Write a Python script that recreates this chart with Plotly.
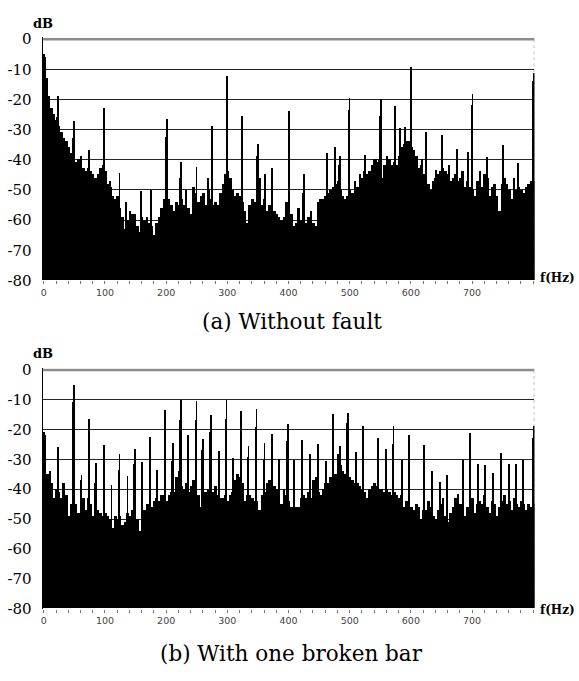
import plotly.graph_objects as go

W, H = 579, 681

# ---------------- data ----------------
FREQ_STEP_HZ = 4  # floor spectrum sampled every 4 Hz from 0 to 800 Hz

# (a) Without fault: spectral floor (dB) at 0,4,8,...,800 Hz
TOP_FLOOR_DB = [
    -6, -13, -19, -23, -25, -27, -29, -31, -33, -34,
    -36, -38, -39, -41, -40, -40, -43, -44, -43, -44,
    -45, -46, -45, -43, -42, -44, -48, -49, -52, -53,
    -52, -56, -59, -63, -60, -57, -58, -58, -62, -64,
    -59, -60, -59, -61, -62, -65, -61, -59, -56, -53,
    -52, -53, -55, -57, -54, -55, -53, -55, -50, -56,
    -58, -49, -51, -54, -52, -51, -55, -50, -53, -55,
    -54, -55, -51, -48, -45, -44, -46, -50, -52, -51,
    -52, -54, -57, -61, -55, -53, -54, -50, -46, -55,
    -53, -57, -55, -54, -57, -58, -59, -60, -59, -54,
    -52, -58, -62, -61, -56, -60, -58, -61, -59, -57,
    -61, -62, -54, -53, -53, -52, -51, -50, -49, -48,
    -47, -50, -52, -53, -52, -50, -51, -47, -49, -45,
    -46, -44, -45, -44, -42, -40, -41, -40, -46, -42,
    -39, -40, -42, -41, -42, -39, -36, -35, -34, -34,
    -36, -37, -39, -43, -42, -45, -44, -48, -50, -47,
    -46, -45, -44, -43, -44, -45, -47, -46, -45, -47,
    -46, -44, -49, -47, -49, -50, -52, -47, -44, -49,
    -45, -46, -52, -49, -48, -52, -57, -48, -46, -48,
    -50, -53, -47, -50, -49, -50, -51, -49, -48, -47,
    -47,
]

# (a) spectral lines: frequency (Hz), tip level (dB), shoulder level (dB or None)
TOP_PEAK_HZ = [0, 22, 48, 60, 73, 98, 107, 123, 134, 158, 174, 200, 223, 249, 268,
               274, 299, 323, 349, 361, 372, 400, 424, 462, 475, 483, 499, 524,
               543, 550, 574, 582, 590, 600, 617, 624, 640, 650, 661, 674, 692,
               700, 724, 750, 768, 775, 800]
TOP_PEAK_DB = [-5, -19, -27.4, -39, -37, -23, -47, -44.6, -54, -50.5, -50, -26.7,
               -40.8, -42.4, -46, -28.9, -12.3, -25.6, -34.8, -45, -43, -24, -44.7,
               -38, -35.8, -39, -19.6, -38.5, -40, -20.1, -22.3, -29.6, -29.3, -9.3,
               -40, -31, -43.5, -31.8, -42, -36.7, -37.4, -18.3, -39.3, -35.1, -46,
               -41.2, -11.5]
TOP_PEAK_SHOULDER = [None, -26, -33, None, None, -28, None, None, None, None, None,
                     -32.6, -46, None, None, -34.8, -18.5, -31.6, -39, None, -49,
                     -30, -51, -44, -44, -42, -23.7, None, None, -25.5, -28.5, None,
                     None, -14.2, None, -39, None, -37, None, None, None, -21.8,
                     None, -39, None, None, -14]

# (b) With one broken bar: spectral floor (dB) at 0,4,8,...,800 Hz
BOT_FLOOR_DB = [
    -22, -35, -35, -38, -43, -40, -41, -43, -38, -42,
    -49, -45, -44, -45, -48, -37, -43, -47, -43, -45,
    -49, -46, -47, -48, -49, -48, -49, -50, -53, -49,
    -50, -49, -52, -51, -48, -49, -47, -48, -50, -54,
    -49, -47, -45, -45, -46, -44, -43, -44, -42, -42,
    -44, -42, -41, -41, -36, -34, -39, -40, -38, -41,
    -39, -37, -38, -42, -46, -42, -41, -40, -41, -41,
    -39, -42, -43, -43, -42, -44, -42, -41, -37, -35,
    -36, -38, -44, -42, -42, -43, -44, -44, -47, -42,
    -41, -38, -37, -36, -39, -40, -38, -45, -40, -42,
    -44, -46, -44, -46, -46, -43, -42, -43, -41, -43,
    -37, -36, -41, -42, -40, -38, -38, -36, -35, -35,
    -33, -32, -34, -35, -35, -36, -37, -38, -38, -39,
    -40, -41, -43, -40, -39, -38, -39, -40, -40, -41,
    -40, -41, -42, -41, -42, -43, -42, -46, -44, -43,
    -46, -47, -45, -46, -50, -47, -47, -44, -46, -49,
    -50, -47, -45, -43, -49, -51, -48, -46, -43, -44,
    -45, -45, -49, -46, -44, -43, -48, -45, -44, -45,
    -42, -46, -48, -44, -45, -49, -46, -44, -42, -45,
    -44, -47, -43, -45, -46, -44, -45, -47, -45, -46,
    -45,
]

BOT_PEAK_HZ = [0, 10, 23, 33, 48, 61, 73, 84, 98, 110, 123, 136, 148, 160, 173, 185,
               198, 210, 223, 235, 249, 259, 272, 286, 298, 309, 322, 334, 347, 360,
               372, 384, 398, 408, 421, 434, 448, 460, 472, 480, 484, 496, 509, 521,
               546, 558, 571, 585, 596, 621, 634, 647, 659, 676, 684, 696, 709, 721,
               733, 746, 759, 771, 783, 800]
BOT_PEAK_DB = [-21, -34, -26, -38.6, -5, -35.3, -16.4, -31.3, -25.3, -38.6, -28.4,
               -35.6, -26.6, -31, -22.5, -33.7, -13.5, -24.4, -10, -21.9, -10.6,
               -23.3, -15.1, -27.3, -10, -29.6, -13.7, -25.7, -13.3, -24.5, -21.4,
               -29.8, -18.2, -30.4, -23.6, -28.2, -24.9, -30.7, -14.9, -28.2, -25.5,
               -14.6, -27.7, -19, -22.8, -26.6, -18.7, -30.2, -22, -25.3, -33.9,
               -37.5, -35.3, -41.8, -30.2, -21.1, -31.5, -31.8, -34.7, -27.9, -31.5,
               -31.5, -30.4, -19]
BOT_PEAK_SHOULDER = [None, None, -32, None, -10.8, None, -23, -38, -30.5, None, -33.6,
                     None, -31.5, -34, -28, -37.5, -19.5, -30.5, -16.8, -24.4, -16.8,
                     -27, -21, -31.5, -16.4, -31.3, -19, -29.3, -19.2, -30.4, -27.3,
                     None, -23.9, None, -31.5, None, None, None, -24, None, None,
                     -17.9, None, -24.4, -26, None, -25, None, -26.6, None, None,
                     None, None, None, None, -25, None, None, None, None, None,
                     None, None, -23]

Y_TICKS = [0, -10, -20, -30, -40, -50, -60, -70, -80]
X_TICKS = [0, 100, 200, 300, 400, 500, 600, 700]
TITLES = ["(a) Without fault", "(b) With one broken bar"]

# ---------------- layout helpers (window pixels -> paper) ----------------
def px(x):
    return x / W

def py(y):
    return 1 - y / H

X_RANGE = [-2, 802]
Y_RANGE = [-80, 0.6]
X_DOM = [px(40.7), px(534.3)]

PANELS = [
    dict(zero=33.0, bottom=280.0, floor=TOP_FLOOR_DB, pk=TOP_PEAK_HZ, pdb=TOP_PEAK_DB,
         psh=TOP_PEAK_SHOULDER, title_y=322, db_y=17, fhz_y=278),
    dict(zero=371.7, bottom=616.0, floor=BOT_FLOOR_DB, pk=BOT_PEAK_HZ, pdb=BOT_PEAK_DB,
         psh=BOT_PEAK_SHOULDER, title_y=662, db_y=355, fhz_y=617),
]

BASE = -80
fig = go.Figure()
shapes, annotations = [], []
SERIF = "DejaVu Serif"

for i, p in enumerate(PANELS):
    xa = "x" if i == 0 else "x2"
    ya = "y" if i == 0 else "y2"
    freqs = [k * FREQ_STEP_HZ for k in range(len(p["floor"]))]
    fig.add_trace(go.Bar(x=freqs, y=[v - BASE for v in p["floor"]], base=BASE,
                         width=FREQ_STEP_HZ * 1.08, marker=dict(color="black", line=dict(width=0)),
                         xaxis=xa, yaxis=ya, showlegend=False, hoverinfo="skip"))
    sh_x = [f for f, s in zip(p["pk"], p["psh"]) if s is not None]
    sh_y = [s - BASE for s in p["psh"] if s is not None]
    fig.add_trace(go.Bar(x=sh_x, y=sh_y, base=BASE, width=2.6,
                         marker=dict(color="black", line=dict(width=0)),
                         xaxis=xa, yaxis=ya, showlegend=False, hoverinfo="skip"))
    fig.add_trace(go.Bar(x=p["pk"], y=[v - BASE for v in p["pdb"]], base=BASE, width=1.4,
                         marker=dict(color="black", line=dict(width=0)),
                         xaxis=xa, yaxis=ya, showlegend=False, hoverinfo="skip"))

    pxdb = (p["bottom"] - p["zero"]) / 80.0
    top_px = p["zero"] - Y_RANGE[1] * pxdb
    ydom = [py(p["bottom"]), py(top_px)]

    xkey = "xaxis" if i == 0 else "xaxis2"
    ykey = "yaxis" if i == 0 else "yaxis2"
    fig.update_layout(**{
        xkey: dict(domain=X_DOM, range=X_RANGE, anchor=ya, tickvals=X_TICKS,
                   ticks="outside", ticklen=3, tickwidth=1, tickcolor="#777",
                   tickfont=dict(family="DejaVu Sans", size=9.5, color="#444"),
                   showgrid=False, zeroline=False, showline=False, fixedrange=True,
                   minor=dict(dtick=20, tick0=0, ticks="outside", ticklen=3,
                              tickcolor="#777", showgrid=False)),
        ykey: dict(domain=ydom, range=Y_RANGE, anchor=xa, tickvals=Y_TICKS,
                   ticktext=[str(t) for t in Y_TICKS], ticks="",
                   ticklabelstandoff=7, fixedrange=True,
                   tickfont=dict(family=SERIF, size=15, color="black"),
                   showgrid=True, gridcolor="#262626", gridwidth=1.2,
                   zeroline=False, showline=True, linecolor="black", linewidth=1),
    })

    shapes.append(dict(type="line", xref=xa, yref=ya, x0=X_RANGE[0], x1=X_RANGE[1],
                       y0=0, y1=0, line=dict(color="#8c8c8c", width=2.4), layer="above"))
    shapes.append(dict(type="line", xref=xa, yref=ya, x0=801.6, x1=801.6,
                       y0=0, y1=-80, line=dict(color="#999", width=1, dash="dot"),
                       layer="below"))

    annotations.append(dict(text="<b>dB</b>", x=px(40.7), y=py(p["db_y"]), xref="paper",
                            yref="paper", showarrow=False, xanchor="center",
                            yanchor="middle", font=dict(family=SERIF, size=13, color="black")))
    annotations.append(dict(text="<b>f(Hz)</b>", x=px(577), y=py(p["fhz_y"]), xref="paper",
                            yref="paper", showarrow=False, xanchor="right",
                            yanchor="middle", font=dict(family=SERIF, size=12, color="black")))
    annotations.append(dict(text=TITLES[i], x=px(291), y=py(p["title_y"]), xref="paper",
                            yref="paper", showarrow=False, xanchor="center",
                            yanchor="middle", font=dict(family=SERIF, size=21.5, color="black")))

fig.update_layout(width=W, height=H, autosize=False,
                  margin=dict(l=0, r=0, t=0, b=0),
                  paper_bgcolor="white", plot_bgcolor="white",
                  barmode="overlay", bargap=0, showlegend=False, hovermode=False,
                  shapes=shapes, annotations=annotations)

# pin the figure to the window's top-left corner so it is not shifted by the page margin
PIN_JS = ("document.documentElement.style.margin='0';document.body.style.margin='0';"
          "document.body.style.padding='0';document.body.style.overflow='hidden';"
          "var d=document.getElementById('{plot_id}');"
          "d.style.position='fixed';d.style.left='0px';d.style.top='0px';")

fig.write_html("out.html", post_script=PIN_JS, config={"displayModeBar": False})
